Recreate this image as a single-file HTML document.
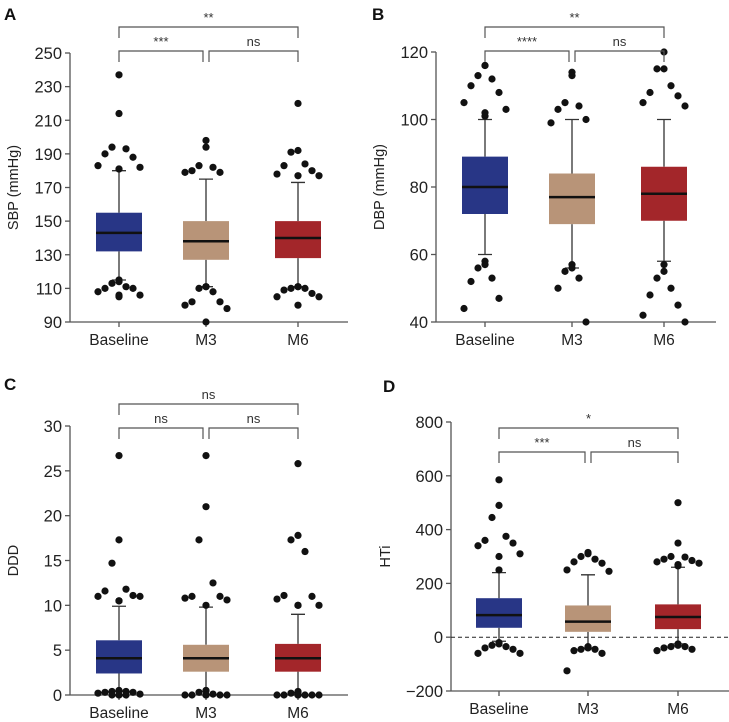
<!DOCTYPE html>
<html><head><meta charset="utf-8">
<style>
html,body{margin:0;padding:0;background:#fff;}
svg{display:block;font-family:"Liberation Sans",sans-serif;}
</style></head>
<body>
<svg id="chart" width="729" height="722" viewBox="0 0 729 722" xmlns="http://www.w3.org/2000/svg"></svg>
<script>
const categories = ["Baseline","M3","M6"];
const colors = ["#283686","#b89478","#a3262a"];

// Panel A: SBP
const aTicks = [90,110,130,150,170,190,210,230,250];
const aQ1 = [132,127,128];
const aMed = [143,138,140];
const aQ3 = [155,150,150];
const aWLo = [115,111,111];
const aWHi = [180,175,173];
const aOutHi = [[237,214,194,193,190,188,183,182,181,181],[198,194,183,182,180,179,179],[220,192,191,184,183,180,178,177,177]];
const aOutLo = [[115,114,113,111,110,110,108,106,106,105],[111,111,110,108,102,102,100,98,90],[111,111,110,110,109,107,105,105,100]];
const aSig = ["***","ns","**"];

// Panel B: DBP
const bTicks = [40,60,80,100,120];
const bQ1 = [72,69,70];
const bMed = [80,77,78];
const bQ3 = [89,84,86];
const bWLo = [60,56,58];
const bWHi = [100,100,100];
const bOutHi = [[116,116,113,112,110,108,105,103,102,101],[114,113,105,104,103,100,99],[120,115,115,110,108,107,105,104]];
const bOutLo = [[58,57,56,53,52,47,44],[57,56,55,53,50,40],[57,55,53,50,48,45,42,40]];
const bSig = ["****","ns","**"];

// Panel C: DDD
const cTicks = [0,5,10,15,20,25,30];
const cQ1 = [2.4,2.6,2.6];
const cMed = [4.1,4.1,4.1];
const cQ3 = [6.1,5.6,5.7];
const cWLo = [0,0,0];
const cWHi = [9.9,9.8,9];
const cOutHi = [[26.7,17.3,14.7,11.8,11.6,11.1,11,11,10.5,10.5],[26.7,21,17.3,12.5,11,11,10.8,10.6,10],[25.8,17.8,17.3,16,11.1,11,10.7,10,10,10]];
const cOutLo = [[0.5,0.5,0.4,0.4,0.3,0.3,0.2,0.1,0,0,0,0],[0.5,0.5,0.3,0.1,0,0,0,0,0,0],[0.4,0.3,0.2,0,0,0,0,0,0,0]];
const cSig = ["ns","ns","ns"];

// Panel D: HTi
const dTicks = [-200,0,200,400,600,800];
const dQ1 = [35,20,30];
const dMed = [82,58,75];
const dQ3 = [145,118,122];
const dWLo = [-15,-40,-25];
const dWHi = [240,232,260];
const dOutHi = [[585,490,445,375,360,350,340,310,300,250],[315,310,300,290,280,275,250,245],[500,350,300,298,290,285,280,275,270,265]];
const dOutLo = [[-20,-25,-30,-35,-40,-45,-60,-60],[-35,-40,-45,-45,-50,-60,-125],[-25,-30,-35,-35,-40,-45,-50]];
const dSig = ["***","ns","*"];

const NS = "http://www.w3.org/2000/svg";
const svg = document.getElementById("chart");
function mk(tag, attrs, parent){
  const e = document.createElementNS(NS, tag);
  for (const k in attrs) e.setAttribute(k, attrs[k]);
  (parent||svg).appendChild(e);
  return e;
}

function panel(cfg){
  const g = mk("g", {});
  
  
  const lo = cfg.ticks[0], hi = cfg.ticks[cfg.ticks.length-1];
  const y = v => cfg.yBot - (v - lo) / (hi - lo) * (cfg.yBot - cfg.yTop);
  const x = i => cfg.cx[i];
  const bw = 46;

  const letter = mk("text", {x:cfg.letterX, y:cfg.letterY, "font-size":17, "font-weight":"bold", fill:"#111"}, g);
  letter.textContent = cfg.letter;
  
  

  // axes
  const yAxis = mk("line", {x1:cfg.axX, x2:cfg.axX, y1:cfg.yTop, y2:cfg.yBot, stroke:"#555", "stroke-width":1.3}, g);
  
  
  const xAxis = mk("line", {x1:cfg.axX, x2:cfg.axEnd, y1:cfg.yBot, y2:cfg.yBot, stroke:"#555", "stroke-width":1.3}, g);
  
  

  cfg.ticks.forEach(t => {
    mk("line", {x1:cfg.axX-5, x2:cfg.axX, y1:y(t), y2:y(t), stroke:"#555", "stroke-width":1.3}, g);
    const tl = mk("text", {x:cfg.axX-8, y:y(t)+6, "font-size":16.5, "text-anchor":"end", fill:"#222"}, g);
    tl.textContent = t < 0 ? "\u2212" + (-t) : t;
    
    
  });
  if (cfg.zeroLine) {
    const zl = mk("line", {x1:cfg.axX, x2:cfg.axEnd, y1:y(0), y2:y(0), stroke:"#222", "stroke-width":1, "stroke-dasharray":"4,3"}, g);
    
    
  }
  const yt = mk("text", {x:0, y:0, "font-size":14.5, "text-anchor":"middle", fill:"#222",
    transform:`translate(${cfg.titleX},${(cfg.yTop+cfg.yBot)/2}) rotate(-90)`}, g);
  yt.textContent = cfg.title;
  
  

  categories.forEach((c,i) => {
    mk("line", {x1:x(i), x2:x(i), y1:cfg.yBot, y2:cfg.yBot+5, stroke:"#555", "stroke-width":1.3}, g);
    const cl = mk("text", {x:x(i), y:cfg.yBot+23, "font-size":15.5, "text-anchor":"middle", fill:"#222"}, g);
    cl.textContent = c;
    
    

    // whiskers
    const wk = mk("path", {d:`M${x(i)},${y(cfg.wHi[i])}V${y(cfg.q3[i])}M${x(i)},${y(cfg.q1[i])}V${y(cfg.wLo[i])}M${x(i)-7},${y(cfg.wHi[i])}H${x(i)+7}M${x(i)-7},${y(cfg.wLo[i])}H${x(i)+7}`, stroke:"#333", "stroke-width":1.3, fill:"none"}, g);
    
    
    const box = mk("rect", {x:x(i)-bw/2, y:y(cfg.q3[i]), width:bw, height:y(cfg.q1[i])-y(cfg.q3[i]), fill:colors[i]}, g);
    
    
    const md = mk("line", {x1:x(i)-bw/2, x2:x(i)+bw/2, y1:y(cfg.med[i]), y2:y(cfg.med[i]), stroke:"#111", "stroke-width":2.5}, g);
    
    

    [cfg.outHi[i], cfg.outLo[i]].forEach(arr => {
      arr.forEach((v,k) => {
        const off = (k % 2 === 0 ? -1 : 1) * (Math.floor(k/2) % 4) * 7 + (k%2 ? 0 : 0);
        const pt = mk("circle", {cx:x(i)+off, cy:y(v), r:3.6, fill:"#111"}, g);
        
        
      });
    });
  });

  // significance brackets
  const b1 = cfg.brY, b2 = cfg.brY + 24, bb = b2 + 11;
  const brk = [[0,1,b2,x(0),x(1)-3],[1,2,b2,x(1)+3,x(2)],[0,2,b1,x(0),x(2)]];
  brk.forEach((b,k) => {
    const top = b[2], bot = k===2 ? b1+11 : bb;
    const p = mk("path", {d:`M${b[3]},${bot}V${top}H${b[4]}V${bot}`, stroke:"#555", "stroke-width":1.2, fill:"none"}, g);
    
    
    const lab = mk("text", {x:(b[3]+b[4])/2, y:top-5, "font-size":13, "text-anchor":"middle", fill:"#333"}, g);
    lab.textContent = cfg.sig[k];
    
    
  });
}

panel({letter:"A", letterX:4, letterY:20, ticks:aTicks, yTop:53, yBot:322, axX:70, axEnd:348, cx:[119,206,298], titleX:18, title:"SBP (mmHg)", brY:27,
  q1:aQ1, med:aMed, q3:aQ3, wLo:aWLo, wHi:aWHi, outHi:aOutHi, outLo:aOutLo, sig:aSig});
panel({letter:"B", letterX:372, letterY:20, ticks:bTicks, yTop:52, yBot:322, axX:436, axEnd:716, cx:[485,572,664], titleX:384, title:"DBP (mmHg)", brY:27,
  q1:bQ1, med:bMed, q3:bQ3, wLo:bWLo, wHi:bWHi, outHi:bOutHi, outLo:bOutLo, sig:bSig});
panel({letter:"C", letterX:4, letterY:390, ticks:cTicks, yTop:426, yBot:695, axX:70, axEnd:348, cx:[119,206,298], titleX:18, title:"DDD", brY:404,
  q1:cQ1, med:cMed, q3:cQ3, wLo:cWLo, wHi:cWHi, outHi:cOutHi, outLo:cOutLo, sig:cSig});
panel({letter:"D", letterX:383, letterY:392, ticks:dTicks, yTop:422, yBot:691, axX:451, axEnd:729, cx:[499,588,678], titleX:390, title:"HTi", brY:428, zeroLine:true,
  q1:dQ1, med:dMed, q3:dQ3, wLo:dWLo, wHi:dWHi, outHi:dOutHi, outLo:dOutLo, sig:dSig});
</script>
</body></html>
